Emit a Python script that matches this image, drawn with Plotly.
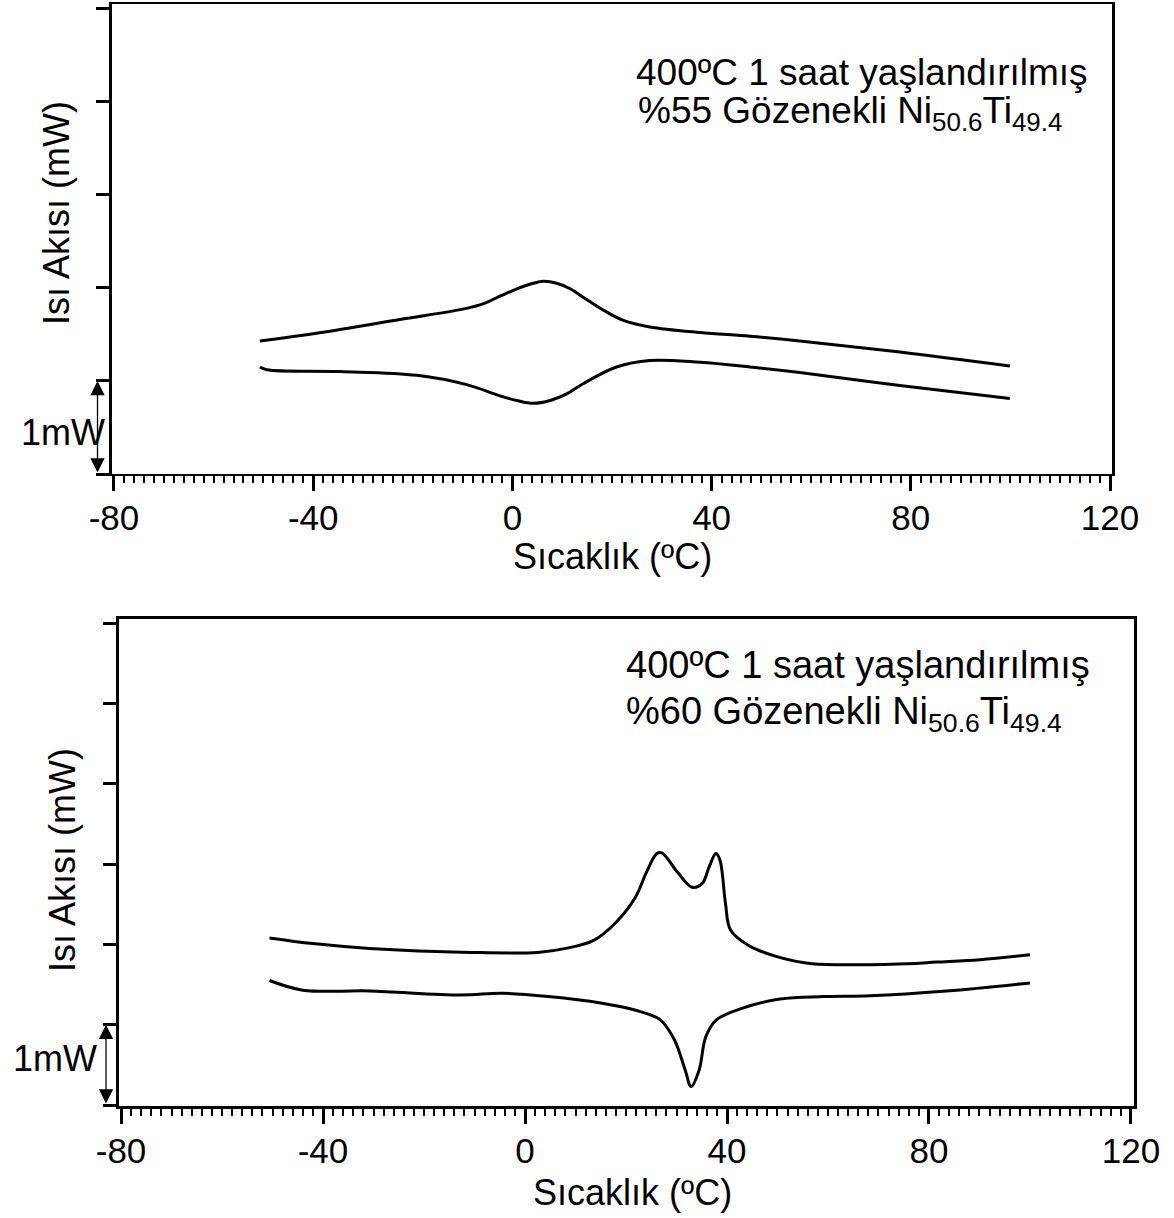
import plotly.graph_objects as go

# ---------------- data ----------------
# Top panel: 400ºC 1 h aged, 55% porous Ni50.6Ti49.4
top_upper_T = [-50.7, -36.0, -22.6, -9.2, -5.8, -2.5, 0.9, 4.2, 6.2, 8.9, 11.6, 14.2,
               18.3, 22.3, 27.6, 37.7, 47.7, 57.7, 77.8, 99.9]
top_upper_Q = [1.43, 1.54, 1.66, 1.78, 1.83, 1.91, 1.99, 2.05, 2.07, 2.05, 1.99, 1.90,
               1.76, 1.65, 1.58, 1.52, 1.48, 1.43, 1.31, 1.16]
top_lower_T = [-50.7, -49.3, -34.6, -19.2, -9.2, -2.5, 0.9, 4.2, 7.6, 10.9, 14.2,
               20.9, 27.6, 37.7, 47.7, 57.7, 77.8, 99.9]
top_lower_Q = [1.15, 1.12, 1.10, 1.06, 0.96, 0.84, 0.79, 0.76, 0.79, 0.86, 0.97,
               1.15, 1.22, 1.20, 1.15, 1.09, 0.95, 0.81]

# Bottom panel: 400ºC 1 h aged, 60% porous Ni50.6Ti49.4
bot_upper_T = [-50.6, -42.0, -30.8, -10.7, 2.5, 8.1, 13.6, 17.8, 21.9, 24.0, 26.1, 27.1,
               30.3, 33.1, 35.1, 36.5, 37.8, 38.6, 39.7, 40.7, 44.2, 49.7, 56.8, 75.6,
               81.5, 90.1, 100.0]
bot_upper_Q = [2.08, 2.01, 1.95, 1.90, 1.90, 1.95, 2.05, 2.26, 2.59, 2.89, 3.13, 3.14,
               2.89, 2.71, 2.76, 2.97, 3.13, 3.05, 2.51, 2.18, 1.99, 1.85, 1.76, 1.76,
               1.78, 1.81, 1.87]
bot_lower_T = [-50.6, -44.0, -30.8, -12.8, -4.5, 4.6, 15.0, 21.9, 26.8, 29.6, 31.7, 32.9,
               34.5, 35.8, 37.9, 42.8, 50.5, 59.1, 68.3, 83.5, 100.0]
bot_lower_Q = [1.55, 1.43, 1.42, 1.37, 1.39, 1.35, 1.27, 1.18, 1.06, 0.81, 0.44, 0.23,
               0.44, 0.85, 1.06, 1.20, 1.32, 1.35, 1.36, 1.42, 1.52]

x_ticks = [-80, -40, 0, 40, 80, 120]
x_tick_text = ["-80", "-40", "0", "40", "80", "120"]
x_mid_ticks = [-60, -20, 20, 60, 100]
top_y_ticks = [0, 1, 2, 3, 4, 5]
bot_y_ticks = [0, 1, 2, 3, 4, 5, 6]

x_title = "Sıcaklık (ºC)"
y_title = "Isı Akısı (mW)"
top_label_1 = "400ºC 1 saat yaşlandırılmış"
top_label_2 = "%55 Gözenekli Ni<sub>50.6</sub>Ti<sub>49.4</sub>"
bot_label_1 = "400ºC 1 saat yaşlandırılmış"
bot_label_2 = "%60 Gözenekli Ni<sub>50.6</sub>Ti<sub>49.4</sub>"
scale_label = "1mW"

# ---------------- figure ----------------
W, H = 1174, 1218
FONT = "Arial, Liberation Sans, sans-serif"

def px_x(p):
    return p / W

def px_y(p):
    return 1 - p / H

fig = go.Figure()
line = dict(color="black", width=3)
fig.add_trace(go.Scatter(x=top_upper_T, y=top_upper_Q, mode="lines", line=line,
                         line_shape="spline", xaxis="x", yaxis="y", showlegend=False))
fig.add_trace(go.Scatter(x=top_lower_T, y=top_lower_Q, mode="lines", line=line,
                         line_shape="spline", xaxis="x", yaxis="y", showlegend=False))
fig.add_trace(go.Scatter(x=bot_upper_T, y=bot_upper_Q, mode="lines", line=line,
                         line_shape="spline", xaxis="x2", yaxis="y2", showlegend=False))
fig.add_trace(go.Scatter(x=bot_lower_T, y=bot_lower_Q, mode="lines", line=line,
                         line_shape="spline", xaxis="x2", yaxis="y2", showlegend=False))

tickfont = dict(family=FONT, size=35, color="black")

def xaxis(domain, rng, anchor, lw):
    return dict(domain=domain, range=rng, anchor=anchor, tickvals=x_ticks,
                ticktext=x_tick_text, automargin=False,
                ticks="outside", ticklen=15, tickwidth=2.5, tickcolor="black",
                minor=dict(dtick=2, tick0=0, ticks="outside", ticklen=7, tickwidth=1.5,
                           tickcolor="black"),
                showline=True, linewidth=lw, linecolor="black", mirror=True,
                showgrid=False, zeroline=False, tickfont=tickfont,
                ticklabelstandoff=-3)

def xmid(over, rng, anchor):
    return dict(overlaying=over, range=rng, anchor=anchor, side="bottom",
                automargin=False,
                tickvals=x_mid_ticks, ticks="outside", ticklen=12, tickwidth=2,
                tickcolor="black", showticklabels=False, showline=False,
                showgrid=False, zeroline=False)

def yaxis(domain, rng, anchor, tv):
    return dict(domain=domain, range=rng, anchor=anchor, tickvals=tv,
                automargin=False,
                ticks="outside", ticklen=13, tickwidth=2.5, tickcolor="black",
                showticklabels=False, showline=True, linewidth=3, linecolor="black",
                mirror=True, showgrid=False, zeroline=False)

top_xdom = [px_x(112), px_x(1112)]
top_ydom = [px_y(474), px_y(4)]
bot_xdom = [px_x(118.5), px_x(1133.5)]
bot_ydom = [px_y(1106), px_y(619)]
top_xr = [-80.4, 120.4]
bot_xr = [-80.5, 120.5]

fig.update_layout(
    width=W, height=H,
    margin=dict(l=0, r=0, t=0, b=0, pad=0, autoexpand=False),
    paper_bgcolor="white", plot_bgcolor="white",
    font=dict(family=FONT, color="black"),
    xaxis=xaxis(top_xdom, top_xr, "y", 2),
    yaxis=yaxis(top_ydom, [0, 5.05], "x", top_y_ticks),
    xaxis2=xaxis(bot_xdom, bot_xr, "y2", 2.5),
    yaxis2=yaxis(bot_ydom, [-0.012, 6.05], "x2", bot_y_ticks),
    xaxis3=xmid("x", top_xr, "y"),
    xaxis4=xmid("x2", bot_xr, "y2"),
)

ann = []
big = dict(family=FONT, size=36, color="black")
lab = dict(family=FONT, size=37, color="black")
lab2 = dict(family=FONT, size=38, color="black")
# axis titles
ann.append(dict(text=x_title, xref="paper", yref="paper", x=px_x(612), y=px_y(556),
                xanchor="center", yanchor="middle", showarrow=False, font=big))
ann.append(dict(text=x_title, xref="paper", yref="paper", x=px_x(632), y=px_y(1192),
                xanchor="center", yanchor="middle", showarrow=False, font=big))
ann.append(dict(text=y_title, xref="paper", yref="paper", x=px_x(57), y=px_y(213),
                xanchor="center", yanchor="middle", showarrow=False, font=big,
                textangle=-90))
ann.append(dict(text=y_title, xref="paper", yref="paper", x=px_x(62), y=px_y(860),
                xanchor="center", yanchor="middle", showarrow=False, font=big,
                textangle=-90))
# in-plot labels
ann.append(dict(text=top_label_1, xref="paper", yref="paper", x=px_x(634), y=px_y(72),
                xanchor="left", yanchor="middle", showarrow=False, font=lab))
ann.append(dict(text=top_label_2, xref="paper", yref="paper", x=px_x(636), y=px_y(88),
                xanchor="left", yanchor="top", showarrow=False, font=lab))
ann.append(dict(text=bot_label_1, xref="paper", yref="paper", x=px_x(624), y=px_y(665),
                xanchor="left", yanchor="middle", showarrow=False, font=lab2))
ann.append(dict(text=bot_label_2, xref="paper", yref="paper", x=px_x(624), y=px_y(688),
                xanchor="left", yanchor="top", showarrow=False, font=lab2))
# scale bars (1 mW)
arrow = dict(text="", showarrow=True, arrowside="end+start", arrowhead=2,
             arrowsize=2.2, arrowwidth=1.3, arrowcolor="black")
ann.append(dict(xref="x domain", yref="y", x=-0.0145, y=1,
                axref="x domain", ayref="y", ax=-0.0145, ay=0, **arrow))
ann.append(dict(xref="x2 domain", yref="y2", x=-0.0123, y=1,
                axref="x2 domain", ayref="y2", ax=-0.0123, ay=0, **arrow))
ann.append(dict(text=scale_label, xref="paper", yref="paper", x=px_x(107), y=px_y(432),
                xanchor="right", yanchor="middle", showarrow=False, font=big))
ann.append(dict(text=scale_label, xref="paper", yref="paper", x=px_x(99), y=px_y(1058),
                xanchor="right", yanchor="middle", showarrow=False, font=big))
fig.update_layout(annotations=ann)

fig.write_html("out.html")
